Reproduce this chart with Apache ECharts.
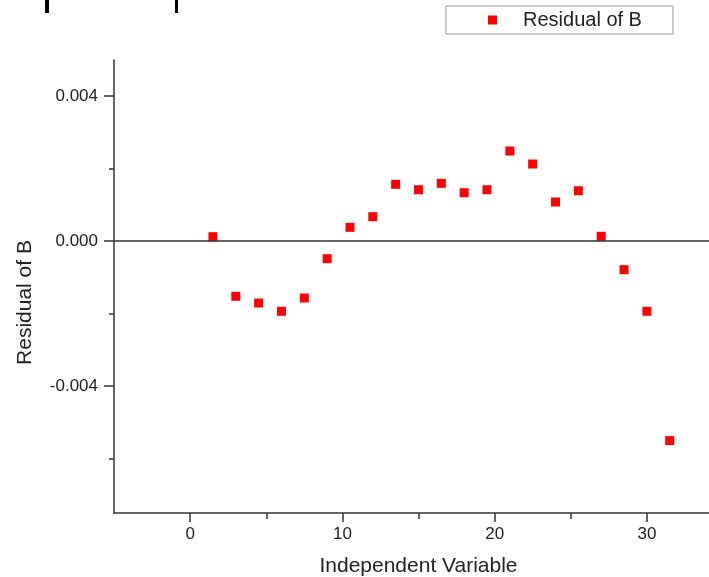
<!DOCTYPE html>
<html>
<head>
<meta charset="utf-8">
<script src="https://cdn.jsdelivr.net/npm/echarts@6/dist/echarts.min.js"></script>
<style>
  html, body { margin: 0; padding: 0; background: #ffffff; }
  #chart { width: 709px; height: 577px; }
</style>
</head>
<body>
<div id="chart"></div>
<script>
// ---- data ----
const seriesName = 'Residual of B';
const xValues = [1.5, 3, 4.5, 6, 7.5, 9, 10.5, 12, 13.5, 15, 16.5, 18, 19.5, 21, 22.5, 24, 25.5, 27, 28.5, 30, 31.5];
const residuals = [0.000124, -0.00152, -0.001705, -0.001934, -0.001567, -0.000483, 0.000383, 0.000676, 0.00157, 0.00142,
  0.001597, 0.001338, 0.00142, 0.002488, 0.00213, 0.001081, 0.001393, 0.000135, -0.000786, -0.001934, -0.005503];
const xMajorTicks = [0, 10, 20, 30];
const xMinorTicks = [5, 15, 25];
const yMajorTicks = [-0.004, 0, 0.004];
const yMinorTicks = [-0.006, -0.002, 0.002];
const xTitle = 'Independent Variable';
const yTitle = 'Residual of B';

const points = xValues.map((x, i) => [x, residuals[i]]);
const FONT = "'Liberation Sans', Arial, sans-serif";
const AXIS_COLOR = '#333333';

const chart = echarts.init(document.getElementById('chart'), null, { renderer: 'canvas' });
chart.setOption({
  backgroundColor: '#ffffff',
  animation: false,
  textStyle: { fontFamily: FONT },
  graphic: [
    { type: 'rect', shape: { x: 45, y: 0, width: 4, height: 13 }, style: { fill: '#000' } },
    { type: 'rect', shape: { x: 175, y: 0, width: 3, height: 13 }, style: { fill: '#000' } }
  ],
  legend: {
    data: [seriesName],
    left: 446,
    top: 6,
    padding: [4, 31, 4, 42],
    borderColor: '#999999',
    borderWidth: 1,
    icon: 'rect',
    itemWidth: 9,
    itemHeight: 9,
    textStyle: { fontSize: 20, color: '#222', fontFamily: FONT, padding: [0, 0, 0, 21] }
  },
  grid: { left: 114, top: 60, width: 609, height: 453, containLabel: false, outerBoundsMode: 'none' },
  xAxis: [
    {
      type: 'value',
      min: -5,
      max: 35,
      name: xTitle,
      nameLocation: 'middle',
      nameGap: 43,
      nameTextStyle: { fontSize: 21, color: '#222', fontFamily: FONT },
      axisLine: { show: true, onZero: false, lineStyle: { color: AXIS_COLOR, width: 1.5 } },
      axisTick: { show: true, inside: false, length: 9, customValues: xMajorTicks, lineStyle: { color: AXIS_COLOR, width: 1.5 } },
      axisLabel: { show: true, margin: 13, fontSize: 17, color: '#222', fontFamily: FONT, customValues: xMajorTicks },
      splitLine: { show: false }
    },
    {
      type: 'value',
      min: -5,
      max: 35,
      position: 'bottom',
      axisLine: { show: false, onZero: false },
      axisTick: { show: true, inside: false, length: 6, customValues: xMinorTicks, lineStyle: { color: AXIS_COLOR, width: 1.5 } },
      axisLabel: { show: false },
      splitLine: { show: false }
    }
  ],
  yAxis: [
    {
      type: 'value',
      min: -0.0075,
      max: 0.005,
      name: yTitle,
      nameLocation: 'middle',
      nameRotate: 90,
      nameGap: 78,
      nameTextStyle: { fontSize: 21, color: '#222', fontFamily: FONT, padding: [0, 32, 0, 0] },
      axisLine: { show: true, onZero: false, lineStyle: { color: AXIS_COLOR, width: 1.5 } },
      axisTick: { show: true, inside: false, length: 10, customValues: yMajorTicks, lineStyle: { color: AXIS_COLOR, width: 1.5 } },
      axisLabel: {
        show: true, margin: 16, fontSize: 17, color: '#222', fontFamily: FONT,
        customValues: yMajorTicks,
        formatter: v => v.toFixed(3)
      },
      splitLine: { show: false }
    },
    {
      type: 'value',
      min: -0.0075,
      max: 0.005,
      position: 'left',
      axisLine: { show: false, onZero: false },
      axisTick: { show: true, inside: false, length: 5, customValues: yMinorTicks, lineStyle: { color: AXIS_COLOR, width: 1.5 } },
      axisLabel: { show: false },
      splitLine: { show: false }
    }
  ],
  series: [
    {
      name: seriesName,
      type: 'scatter',
      xAxisIndex: 0,
      yAxisIndex: 0,
      data: points,
      symbol: 'rect',
      symbolSize: 9,
      itemStyle: { color: '#ff0000', opacity: 1 },
      markLine: {
        silent: true,
        symbol: ['none', 'none'],
        label: { show: false },
        lineStyle: { color: AXIS_COLOR, width: 1.5, type: 'solid' },
        data: [{ yAxis: 0 }]
      },
      z: 3
    }
  ]
});
</script>
</body>
</html>
